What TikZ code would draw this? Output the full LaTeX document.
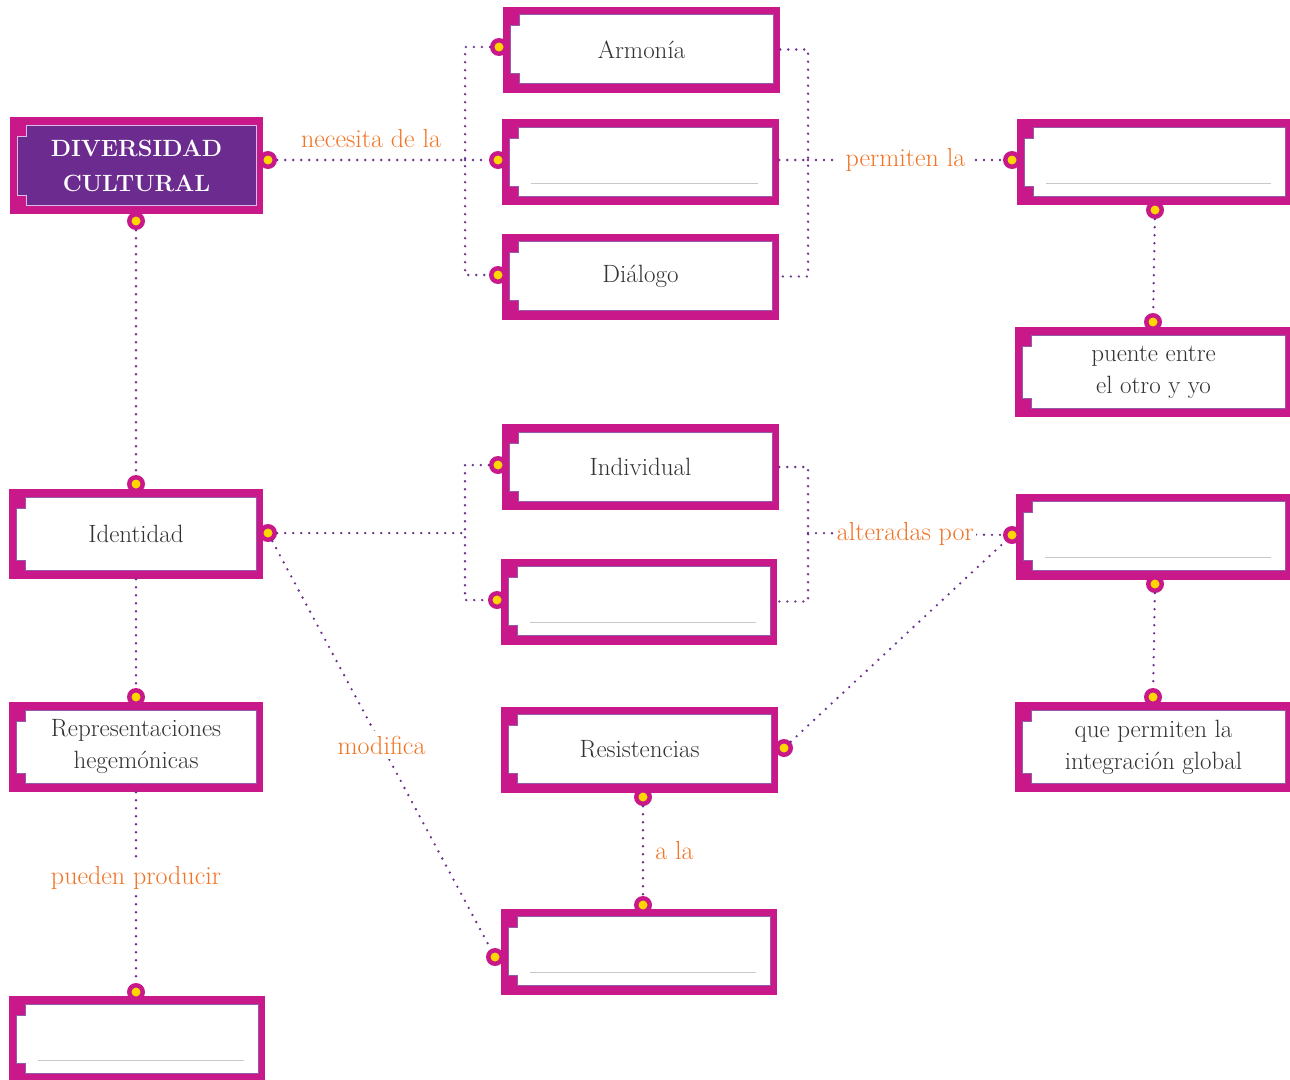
\documentclass[tikz,border=0pt]{standalone}
\usepackage{tikz}
\usetikzlibrary{positioning}
\definecolor{frame}{RGB}{200,24,138}
\definecolor{deeppurple}{RGB}{108,44,143}
\definecolor{lavender}{RGB}{215,190,230}
\definecolor{dotpurple}{RGB}{106,48,144}
\definecolor{edgepurple}{RGB}{150,90,170}
\definecolor{pinyellow}{RGB}{255,214,0}
\definecolor{labelorange}{RGB}{243,115,36}
\definecolor{textgrey}{RGB}{50,50,50}
\definecolor{rulegrey}{RGB}{200,200,200}

\tikzset{
  inner/.style={fill=white, draw=edgepurple},
  cbox/.style={rectangle, fill=frame, inner sep=0pt, text=textgrey, align=center,
    font=\fontsize{25}{32}\selectfont,
    path picture={
      \path[inner, line width=0.8pt]
        ([xshift=16pt,yshift=-8pt]path picture bounding box.north west) --
        ([xshift=-7pt,yshift=-8pt]path picture bounding box.north east) --
        ([xshift=-7pt,yshift=9pt]path picture bounding box.south east) --
        ([xshift=16pt,yshift=9pt]path picture bounding box.south west) --
        ([xshift=16pt,yshift=19pt]path picture bounding box.south west) --
        ([xshift=7pt,yshift=19pt]path picture bounding box.south west) --
        ([xshift=7pt,yshift=-19pt]path picture bounding box.north west) --
        ([xshift=16pt,yshift=-19pt]path picture bounding box.north west) -- cycle;
    }},
  wide/.style={minimum width=277pt, minimum height=86pt},
  half/.style={minimum width=254pt, minimum height=90pt},
  tall/.style={minimum width=277pt, minimum height=90pt},
  pin/.style={circle, fill=frame, minimum size=18pt, inner sep=0pt,
    path picture={\fill[pinyellow] (path picture bounding box.center) circle (4.5pt);}},
  link/.style={dotpurple, line width=2.6pt, line cap=round, dash pattern=on 0pt off 8pt},
  lab/.style={text=labelorange, font=\fontsize{26}{30}\selectfont, fill=white, inner sep=5pt}
}

\begin{document}
\begin{tikzpicture}[x=1pt,y=-1pt]
    \useasboundingbox (0,0) rectangle (1290,1079);
    % boxes
    \node[cbox, minimum width=253pt, minimum height=97pt, text=white,
      font=\fontsize{23.5}{35}\selectfont\bfseries,
      inner/.style={fill=deeppurple, draw=lavender}] (dc) at (136.5,165.5) {DIVERSIDAD\\CULTURAL};
    \node[cbox, wide] (arm) at (641.5,49.5) {Armonía};
    \node[cbox, wide] (b2) at (640.5,162) {};
    \node[cbox, wide] (dia) at (640.5,276.5) {Diálogo};
    \node[cbox, wide, minimum width=275pt] (rt) at (1154.5,162) {};
    \node[cbox, tall] (pue) at (1153.5,372) {puente entre\\el otro y yo};
    \node[cbox, half] (ide) at (136,534) {Identidad};
    \node[cbox, wide] (ind) at (640.5,467) {Individual};
    \node[cbox, wide, minimum width=276pt] (b4) at (639,601.5) {};
    \node[cbox, wide, minimum width=276pt] (ra) at (1154,536.5) {};
    \node[cbox, half] (rep) at (136,747) {Representaciones\\hegemónicas};
    \node[cbox, wide] (res) at (639.5,749.5) {Resistencias};
    \node[cbox, tall] (que) at (1153.5,747) {que permiten la\\integración global};
    \node[cbox, wide, minimum width=256pt] (bl) at (137,1039) {};
    \node[cbox, wide, minimum width=276pt] (bm) at (639,951.5) {};
    % rules in the empty boxes
    \foreach \n in {b2,rt,b4,ra,bm,bl}
      \draw[rulegrey, line width=1.2pt] ([xshift=29pt,yshift=22pt]\n.south west) -- ([xshift=-21pt,yshift=22pt]\n.south east);
    % pins
    \node[pin] (dcr) at (268,160) {};
    \node[pin] (dcb) at (136,221) {};
    \node[pin] (arml) at (499,47) {};
    \node[pin] (b2l) at (498,160) {};
    \node[pin] (dial) at (498,275) {};
    \node[pin] (rtl) at (1012,160) {};
    \node[pin] (rtb) at (1155,210) {};
    \node[pin] (puet) at (1153,322) {};
    \node[pin] (idet) at (136,484) {};
    \node[pin] (ider) at (268,533) {};
    \node[pin] (indl) at (498,465) {};
    \node[pin] (b4l) at (497,600) {};
    \node[pin] (ral) at (1012,535) {};
    \node[pin] (rab) at (1155,584) {};
    \node[pin] (quet) at (1153,697) {};
    \node[pin] (rept) at (136,697) {};
    \node[pin] (resr) at (784,748) {};
    \node[pin] (resb) at (643,797) {};
    \node[pin] (bmt) at (643,905) {};
    \node[pin] (bml) at (495,957) {};
    \node[pin] (blt) at (136,992) {};
    % junctions of the brackets
    \coordinate (nl) at (465,160);
    \coordinate (nr) at (808,160);
    \coordinate (il) at (465,533);
    \coordinate (ir) at (808,533);
    % connectors
    \draw[link] (dcr) -- node[lab, fill=none, above=6pt] {necesita de la} (nl);
    \draw[link] (arml) -| (nl) |- (dial);
    \draw[link] (nl) -- (b2l);
    \draw[link] (arm.east) -| (nr) |- (dia.east);
    \draw[link] (b2.east |- nr) -- (nr);
    \draw[link] (nr) -- node[lab, inner sep=8pt] {permiten la} (rtl);
    \draw[link] (rtb) -- (puet);
    \draw[link] (dcb) -- (idet);
    \draw[link] (ider) -- (il);
    \draw[link] (indl) -| (il) |- (b4l);
    \draw[link] (ind.east) -| (ir) |- (b4.east);
    \draw[link] (ir) -- node[lab, inner sep=2pt] {alteradas por} (ral);
    \draw[link] (resr) -- (ral);
    \draw[link] (rab) -- (quet);
    \draw[link] (ide) -- (rept);
    \draw[link] (ider) -- node[lab] {modifica} (bml);
    \draw[link] (rep) -- node[lab, pos=0.45] {pueden producir} (blt);
    \draw[link] (resb) -- node[lab, fill=none, right=6pt] {a la} (bmt);
\end{tikzpicture}
\end{document}
